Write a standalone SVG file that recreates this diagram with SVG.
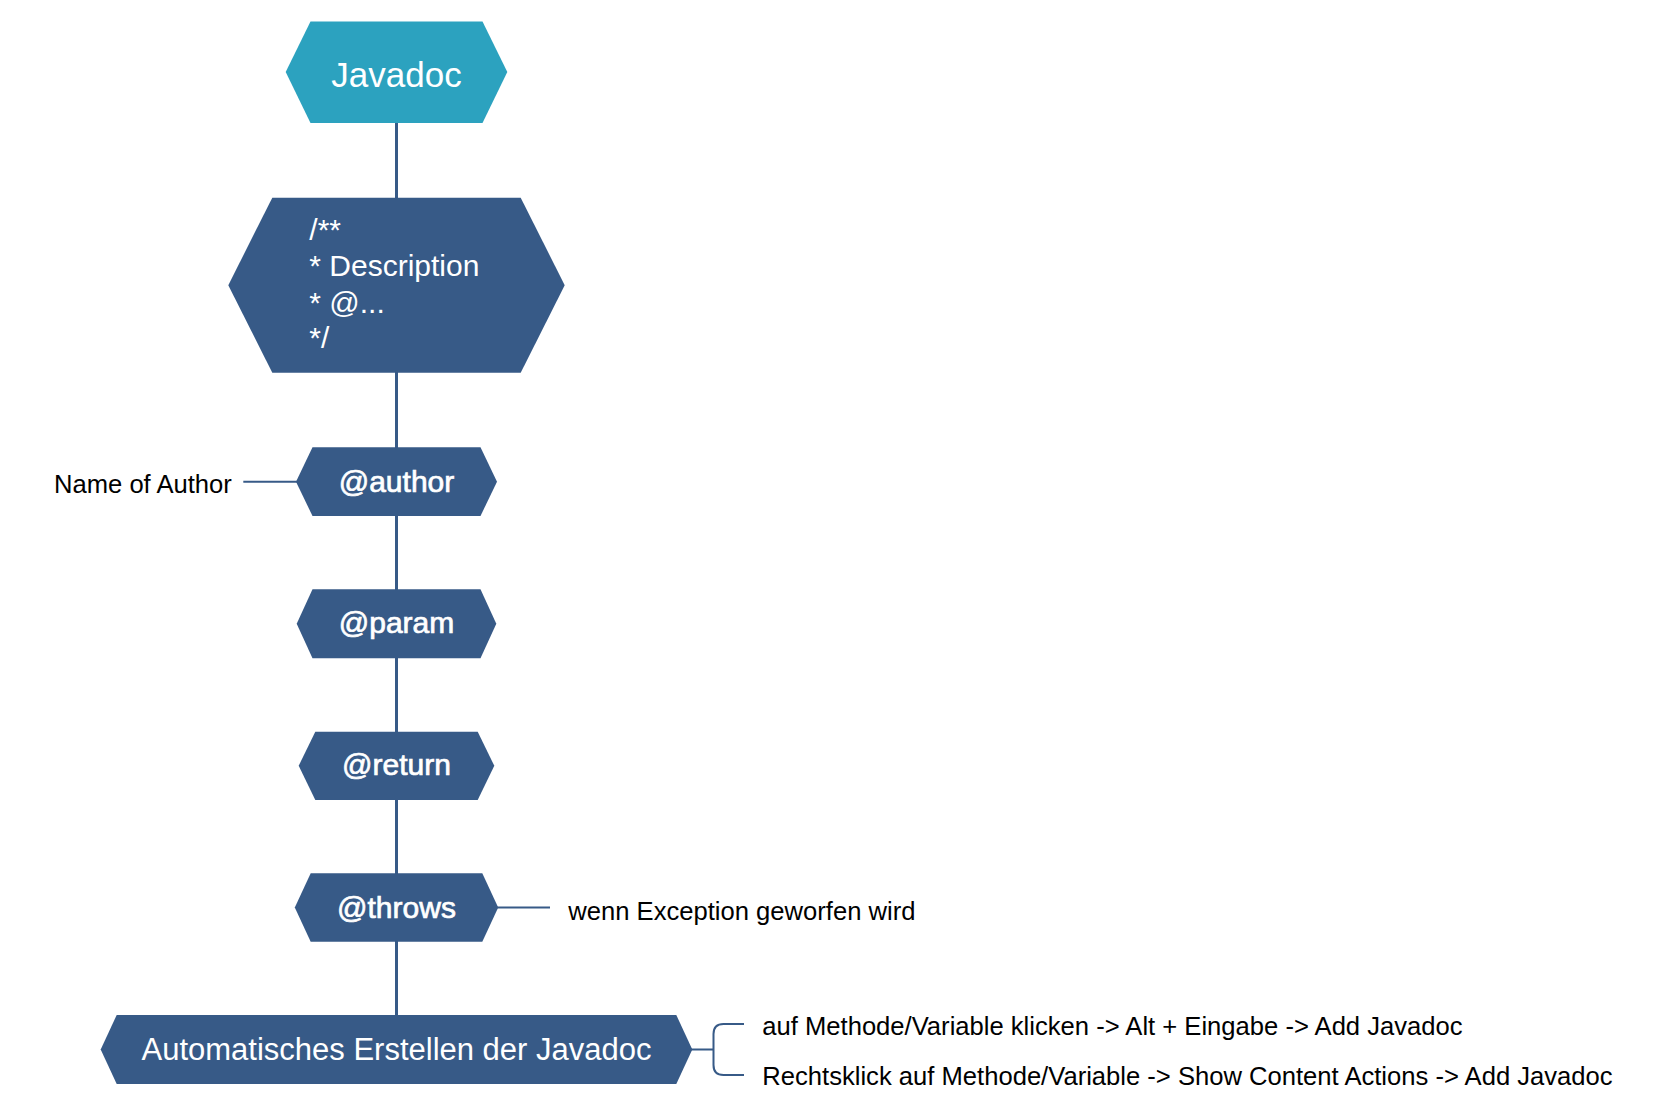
<svg xmlns="http://www.w3.org/2000/svg" width="1658" height="1116" viewBox="0 0 1658 1116">
<style>
.teal{fill:#2CA2BF}
.dark{fill:#375A87}
.lbl{fill:#fff;font-family:"Liberation Sans",Arial,sans-serif;text-anchor:middle}
.tag{font-size:30px;stroke:#fff;stroke-width:0.7px}
.ann{fill:#000;font-family:"Liberation Sans",Arial,sans-serif;font-size:25.6px}
.con{fill:none;stroke:#375A87}
</style>
<rect width="1658" height="1116" fill="#fff"/>
<g id="connectors">
<path class="con" stroke-width="3" d="M396.5 123V1015"/>
<path class="con" stroke-width="2" d="M243.3 481.7H297"/>
<path class="con" stroke-width="2" d="M496 907.5H550"/>
<path class="con" stroke-width="2" d="M691 1049.5H713.5M744 1024H723.5Q713.5 1024 713.5 1034V1065Q713.5 1075 723.5 1075H744"/>
</g>
<g id="n-javadoc">
<polygon class="teal" points="285.7,72 310.5,21.5 482.5,21.5 507.3,72 482.5,123 310.5,123"/>
<text class="lbl" x="396.5" y="86.7" font-size="35">Javadoc</text>
</g>
<g id="n-comment">
<polygon class="dark" points="228.3,285.2 272.3,197.7 520.7,197.7 564.7,285.2 520.7,372.7 272.3,372.7"/>
<g font-family="'Liberation Sans',Arial,sans-serif" font-size="30" fill="#fff">
<text x="309.3" y="239.5">/**</text>
<text x="309.3" y="276">* Description</text>
<text x="309.3" y="312.5">* @...</text>
<text x="309.3" y="348">*/</text>
</g>
</g>
<g id="n-author">
<polygon class="dark" points="296,481.7 312.5,447.3 480.5,447.3 497,481.7 480.5,516 312.5,516"/>
<text class="lbl tag" x="396.5" y="491.7">@author</text>
</g>
<g id="t-author">
<text class="ann" x="54" y="492.7" font-size="24.7">Name of Author</text>
</g>
<g id="n-param">
<polygon class="dark" points="296.7,623.8 312.5,589.3 480.5,589.3 496.3,623.8 480.5,658.3 312.5,658.3"/>
<text class="lbl tag" x="396.5" y="632.5">@param</text>
</g>
<g id="n-return">
<polygon class="dark" points="298.7,765.8 315.3,731.7 477.7,731.7 494.3,765.8 477.7,800 315.3,800"/>
<text class="lbl tag" x="396.5" y="775">@return</text>
</g>
<g id="n-throws">
<polygon class="dark" points="294.8,907.5 310.7,873.3 482.3,873.3 498.2,907.5 482.3,941.7 310.7,941.7"/>
<text class="lbl tag" x="396.5" y="917.5">@throws</text>
</g>
<g id="t-throws">
<text class="ann" x="568.3" y="920">wenn Exception geworfen wird</text>
</g>
<g id="n-auto">
<polygon class="dark" points="100.7,1049.5 116.7,1015 676.3,1015 692.3,1049.5 676.3,1084 116.7,1084"/>
<text class="lbl" x="396.5" y="1060" font-size="31">Automatisches Erstellen der Javadoc</text>
</g>
<g id="t-auto1">
<text class="ann" x="762.3" y="1035">auf Methode/Variable klicken -&gt; Alt + Eingabe -&gt; Add Javadoc</text>
</g>
<g id="t-auto2">
<text class="ann" x="762.3" y="1085">Rechtsklick auf Methode/Variable -&gt; Show Content Actions -&gt; Add Javadoc</text>
</g>
</svg>
